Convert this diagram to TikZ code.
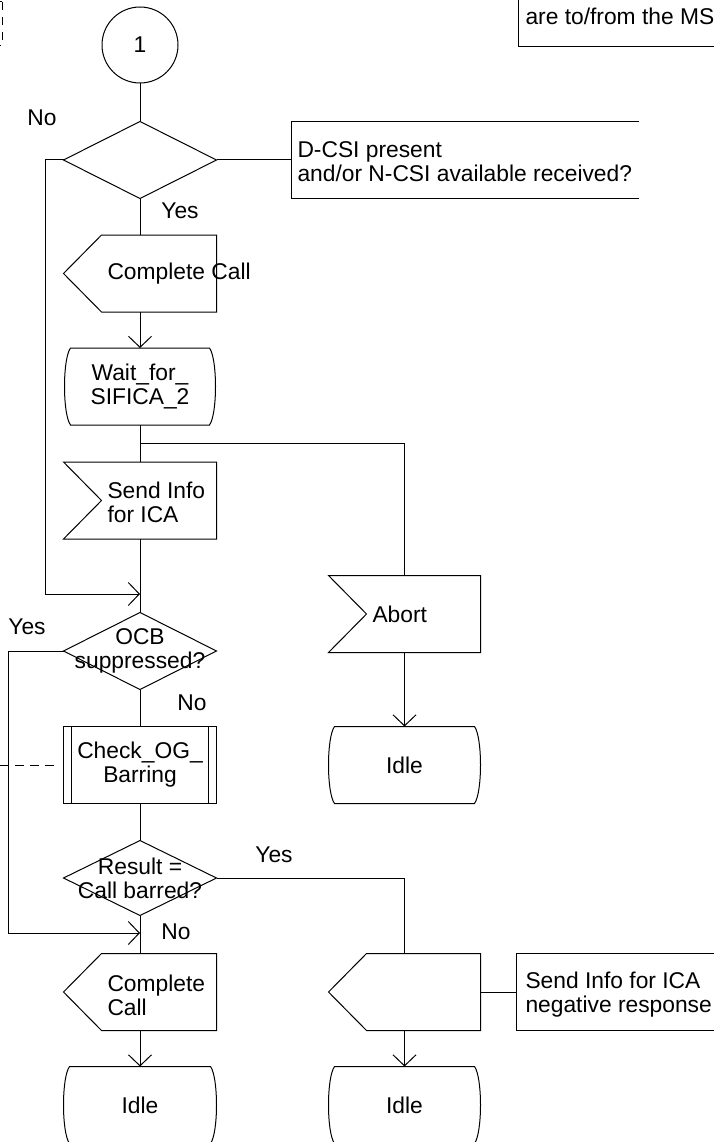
\documentclass[tikz,border=0pt]{standalone}
\usepackage{fontspec}
\setmainfont{Liberation Sans}
\usetikzlibrary{arrows.meta}

\newcommand{\decisionbox}[1]{\draw (#1.west) -- (#1.north) -- (#1.east) -- (#1.south) -- cycle;}
\newcommand{\outputbox}[1]{\draw (#1.west) -- ([xshift=38pt]#1.north west) -- (#1.north east) -- (#1.south east) -- ([xshift=38pt]#1.south west) -- cycle;}
\newcommand{\inputbox}[1]{\draw (#1.north west) -- (#1.north east) -- (#1.south east) -- (#1.south west) -- ([xshift=38pt]#1.west) -- cycle;}
\newcommand{\statebox}[1]{\draw ([xshift=6pt]#1.north west) -- ([xshift=-6pt]#1.north east)
  .. controls ([xshift=2pt,yshift=-11pt]#1.north east) and ([xshift=2pt,yshift=11pt]#1.south east) .. ([xshift=-6pt]#1.south east)
  -- ([xshift=6pt]#1.south west)
  .. controls ([xshift=-2pt,yshift=11pt]#1.south west) and ([xshift=-2pt,yshift=-11pt]#1.north west) .. cycle;}
\newcommand{\procbox}[1]{\draw (#1.north west) rectangle (#1.south east);
  \draw ([xshift=8pt]#1.north west) -- ([xshift=8pt]#1.south west);
  \draw ([xshift=-8pt]#1.north east) -- ([xshift=-8pt]#1.south east);}

\begin{document}
\begin{tikzpicture}[x=1pt,y=-1pt,line width=1pt,
  every node/.style={font=\fontsize{22.8}{24}\selectfont},
  sym/.style={minimum width=152pt,minimum height=76pt,inner sep=0pt,align=center},
  lbl/.style={inner sep=0pt},
  flow/.style={-{Straight Barb[length=11pt,width=23pt]}},
  cmtline/.style={dash pattern=on 9pt off 6pt}]
\useasboundingbox (0,0) rectangle (713,1142);

\draw[dash pattern=on 8pt off 7pt] (2,2) -- (2,46) -- (-60,46);
\draw[dash pattern=on 8pt off 7pt] (2,2) -- (-60,2);
\draw (518,-60) -- (518,47) -- (760,47);
\node[lbl,anchor=base west] (note) at (525,25) {are to/from the MS};

\node[circle,draw,minimum size=76pt,inner sep=0pt] (con1) at (140,45) {1};

\node[sym] (dec1) at (140,160) {};
\decisionbox{dec1}
\node[lbl] (no1) at (42,118) {No};
\node[lbl] (yes1) at (180,211) {Yes};

\node[minimum width=346pt,minimum height=76pt,inner sep=0pt] (cmt1) at (465,160) {};
\draw (cmt1.north east) -- (cmt1.north west) -- (cmt1.south west) -- (cmt1.south east);
\node[lbl,anchor=west,align=left] (cmt1txt) at (297,162) {D-CSI present\\and/or N-CSI available received?};

\node[sym] (out1) at (140,273.5) {};
\outputbox{out1}
\node[lbl,anchor=west] (out1txt) at (107,274) {Complete Call};

\node[sym,minimum width=150pt] (wait) at (140,386.5) {Wait\_for\_\\SIFICA\_2};
\statebox{wait}

\node[sym] (in1) at (140,500.5) {};
\inputbox{in1}
\node[lbl,anchor=west,align=left] (in1txt) at (107,502) {Send Info\\for ICA};

\node[sym] (dec2) at (140,651) {OCB\\suppressed?};
\decisionbox{dec2}
\node[lbl] (yes2) at (27,627) {Yes};
\node[lbl] (no2) at (192,703) {No};

\node[sym] (proc) at (140,765) {Check\_OG\_\\Barring};
\procbox{proc}

\node[sym,minimum height=74pt] (dec3) at (140,878) {Result =\\Call barred?};
\decisionbox{dec3}
\node[lbl] (yes3) at (274,855) {Yes};
\node[lbl] (no3) at (176,932) {No};

\node[sym] (out2) at (140,992) {};
\outputbox{out2}
\node[lbl,anchor=west,align=left] (out2txt) at (107,995) {Complete\\Call};

\node[sym] (idle1) at (140,1105) {Idle};
\statebox{idle1}

\node[sym,minimum width=151pt] (abort) at (404.5,614) {};
\inputbox{abort}
\node[lbl,anchor=west] (aborttxt) at (372,614) {Abort};

\node[sym,minimum width=151pt] (idle2) at (404.5,765) {Idle};
\statebox{idle2}

\node[sym,minimum width=151pt] (out3) at (404.5,992) {};
\outputbox{out3}

\node[minimum width=243pt,minimum height=76pt,inner sep=0pt] (cmt2) at (638.5,992) {};
\draw (cmt2.north east) -- (cmt2.north west) -- (cmt2.south west) -- (cmt2.south east);
\node[lbl,anchor=west,align=left] (cmt2txt) at (525,995) {Send Info for ICA\\negative response};

\node[sym,minimum width=151pt] (idle3) at (404.5,1105) {Idle};
\statebox{idle3}

\coordinate (fork1) at (140,443);
\coordinate (join1) at (140,594);
\coordinate (join2) at (140,933);
\coordinate (cmtend) at (0,765);

\draw (con1) -- (dec1.north);
\draw (dec1.east) -- (cmt1.west);
\draw (dec1.south) -- (out1.north);
\draw[flow] (out1.south) -- (wait.north);
\draw (wait.south) -- (in1.north);
\draw (fork1) -| (abort.north);
\draw (in1.south) -- (dec2.north);
\draw[flow] (dec1.west) -| (45,594) -- (join1);
\draw (dec2.south) -- (proc.north);
\draw[cmtline] (cmtend) -- ([xshift=-4pt]proc.west);
\draw (proc.south) -- (dec3.north);
\draw[flow] (dec2.west) -| (8,933) -- (join2);
\draw (dec3.south) -- (out2.north);
\draw[flow] (out2.south) -- (idle1.north);
\draw[flow] (abort.south) -- (idle2.north);
\draw (dec3.east) -| (out3.north);
\draw (out3.east) -- (cmt2.west);
\draw[flow] (out3.south) -- (idle3.north);
\end{tikzpicture}
\end{document}
